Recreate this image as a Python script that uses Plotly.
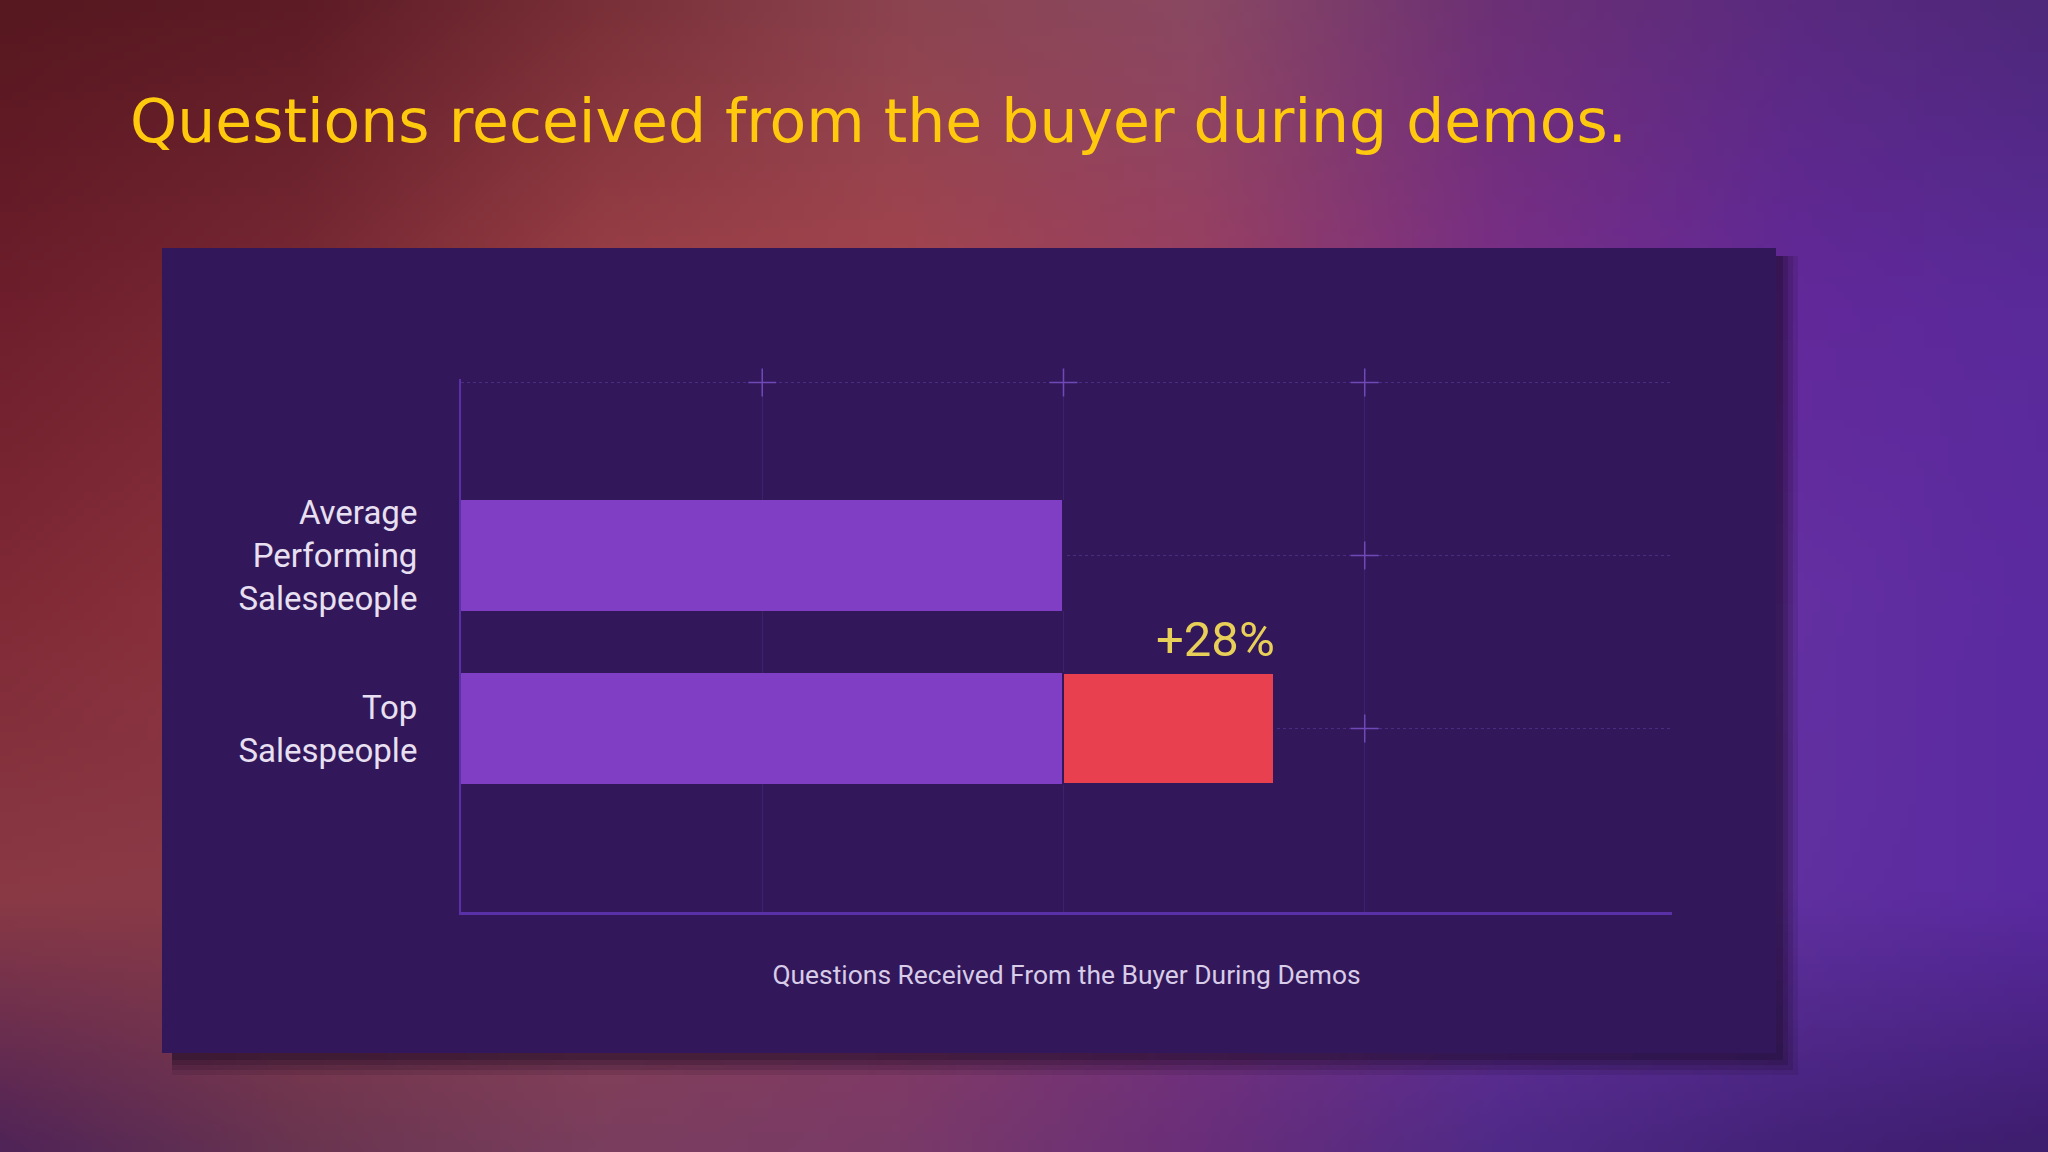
import base64
import struct
import zlib

import numpy as np
import plotly.graph_objects as go

# ---------------- data ----------------
categories = ["Average Performing Salespeople", "Top Salespeople"]
category_ticktext = ["Average<br>Performing<br>Salespeople", "Top<br>Salespeople"]
base_values = [2.0, 2.0]          # questions (scaled units) for each group
uplift_values = [0.0, 0.70]       # extra questions for top salespeople
uplift_label = "+28%"
cross_x = [1, 2, 3, 3, 3]         # grid intersection markers
cross_y = [2, 2, 2, 1, 0]
title_text = "Questions received from the buyer during demos."
axis_title = "Questions Received From the Buyer During Demos"

# ---------------- background gradient (PNG built in memory) ----------------
grid_cols = [0, 300, 600, 900, 1200, 1500, 1800, 2048]
grid_rows = [0, 300, 600, 900, 1152]
grid_colors = [
    ["#571820", "#5e1c26", "#7a3038", "#8c4450", "#8a4862", "#6c3076", "#5a2a80", "#4e287a"],
    ["#6e1e2c", "#7a2a35", "#9c4048", "#a4444e", "#9a3e62", "#7a2e88", "#62289a", "#5a2a9a"],
    ["#802a36", "#8e3440", "#a04048", "#a04452", "#8e3a70", "#7030a0", "#6430a2", "#5c2aa0"],
    ["#8a3a45", "#8a3a48", "#904050", "#8c3c62", "#7a3580", "#6a30a0", "#6030a0", "#5a2aa0"],
    ["#502458", "#6a3550", "#7a3e5e", "#7a3a68", "#6a2e7a", "#502a88", "#442278", "#3e1e6e"],
]


def hex_rgb(h):
    h = h.lstrip("#")
    return [int(h[i:i + 2], 16) for i in (0, 2, 4)]


W, H = 256, 144
anchor = np.array([[hex_rgb(c) for c in row] for row in grid_colors], dtype=float)
xs = np.linspace(0, 2048, W)
ys = np.linspace(0, 1152, H)
tmp = np.zeros((len(grid_rows), W, 3))
for r in range(len(grid_rows)):
    for ch in range(3):
        tmp[r, :, ch] = np.interp(xs, grid_cols, anchor[r, :, ch])
img = np.zeros((H, W, 3))
for c in range(W):
    for ch in range(3):
        img[:, c, ch] = np.interp(ys, grid_rows, tmp[:, c, ch])
img = np.clip(img, 0, 255).astype(np.uint8)


def png_bytes(arr):
    h, w, _ = arr.shape
    raw = b"".join(b"\x00" + arr[i].tobytes() for i in range(h))

    def chunk(tag, data):
        c = struct.pack(">I", len(data)) + tag + data
        return c + struct.pack(">I", zlib.crc32(tag + data) & 0xFFFFFFFF)

    return (b"\x89PNG\r\n\x1a\n" + chunk(b"IHDR", struct.pack(">IIBBBBB", w, h, 8, 2, 0, 0, 0))
            + chunk(b"IDAT", zlib.compress(raw, 9)) + chunk(b"IEND", b""))


bg_uri = "data:image/png;base64," + base64.b64encode(png_bytes(img)).decode()

# ---------------- figure ----------------
FIG_W, FIG_H = 2048, 1152
L, R, T, B = 461, 376, 379, 240
pw = FIG_W - L - R
ph = FIG_H - T - B


def px_x(v):
    return (v - L) / pw


def px_y(v):
    return (FIG_H - B - v) / ph


PANEL = "#32185a"
PURPLE = "#803ec4"
RED = "#e8404f"

ypos = [1, 0]  # Average on top, Top below

fig = go.Figure()
fig.add_trace(go.Bar(
    y=ypos, x=base_values, orientation="h",
    marker=dict(color=PURPLE, line=dict(width=0)),
    hoverinfo="skip", showlegend=False,
))
fig.add_trace(go.Bar(
    y=ypos, x=uplift_values, orientation="h",
    marker=dict(color=RED, line=dict(color=PANEL, width=2)),
    hoverinfo="skip", showlegend=False,
))
fig.add_trace(go.Scatter(
    x=cross_x, y=cross_y, mode="markers", cliponaxis=False,
    marker=dict(symbol="cross-thin", size=20, line=dict(color="#7048b8", width=1.5)),
    hoverinfo="skip", showlegend=False,
))

top_idx = categories.index("Top Salespeople")
fig.add_annotation(
    x=base_values[top_idx] + uplift_values[top_idx], y=ypos[top_idx] + 0.32,
    xref="x", yref="y", text=uplift_label, showarrow=False,
    xanchor="right", yanchor="bottom", yshift=3, xshift=3,
    font=dict(family="Roboto", size=49, color="#e8cf58"),
)

# panel + shadow
shapes = []
for i, op in enumerate([0.12, 0.16, 0.20, 0.26]):
    off = (4 - i) * 5
    shapes.append(dict(
        type="rect", xref="paper", yref="paper", layer="below",
        x0=px_x(172), x1=px_x(1778 + off),
        y0=px_y(1055 + off), y1=px_y(256),
        fillcolor=f"rgba(25,8,35,{op})", line=dict(width=0),
    ))
shapes.append(dict(
    type="rect", xref="paper", yref="paper", layer="below",
    x0=px_x(162), x1=px_x(1776), y0=px_y(1053), y1=px_y(248),
    fillcolor=PANEL, line=dict(width=0),
))

fig.update_layout(
    width=FIG_W, height=FIG_H,
    margin=dict(l=L, r=R, t=T, b=B),
    paper_bgcolor="#5a2060",
    plot_bgcolor="rgba(0,0,0,0)",
    barmode="stack",
    bargap=0.36,
    shapes=shapes,
    images=[dict(source=bg_uri, xref="paper", yref="paper",
                 x=-L / pw, y=1 + T / ph, sizex=FIG_W / pw, sizey=FIG_H / ph,
                 xanchor="left", yanchor="top", sizing="stretch", layer="below")],
    title=dict(text=title_text, x=130 / FIG_W, xanchor="left", xref="container",
               y=1 - 121 / FIG_H, yanchor="middle",
               font=dict(family="DejaVu Sans", size=60, color="#ffc90e")),
    xaxis=dict(
        range=[0, 4.02], tickvals=[1, 2, 3], showticklabels=False, ticks="",
        showgrid=True, gridcolor="#3e2070", gridwidth=1,
        zeroline=False, showline=True, linecolor="#5a30a6", linewidth=3,
        title=dict(text=axis_title, standoff=52,
                   font=dict(family="Roboto", size=26.4, color="#d8cce8")),
        fixedrange=True,
    ),
    yaxis=dict(
        range=[-1.06, 2.02], tickvals=[0, 1, 2],
        ticktext=[category_ticktext[1], category_ticktext[0], ""],
        ticks="", ticklabelstandoff=35,
        tickfont=dict(family="Roboto", size=33, color="#e8e0f2"),
        showgrid=True, gridcolor="#4a2c82", gridwidth=1, griddash="dot",
        zeroline=False, showline=True, linecolor="#5a30a6", linewidth=2,
        fixedrange=True,
    ),
    font=dict(family="Roboto"),
)

fig.write_html(
    "out.html",
    config={"displayModeBar": False},
    post_script="document.body.style.margin='0';document.body.style.overflow='hidden';",
)
